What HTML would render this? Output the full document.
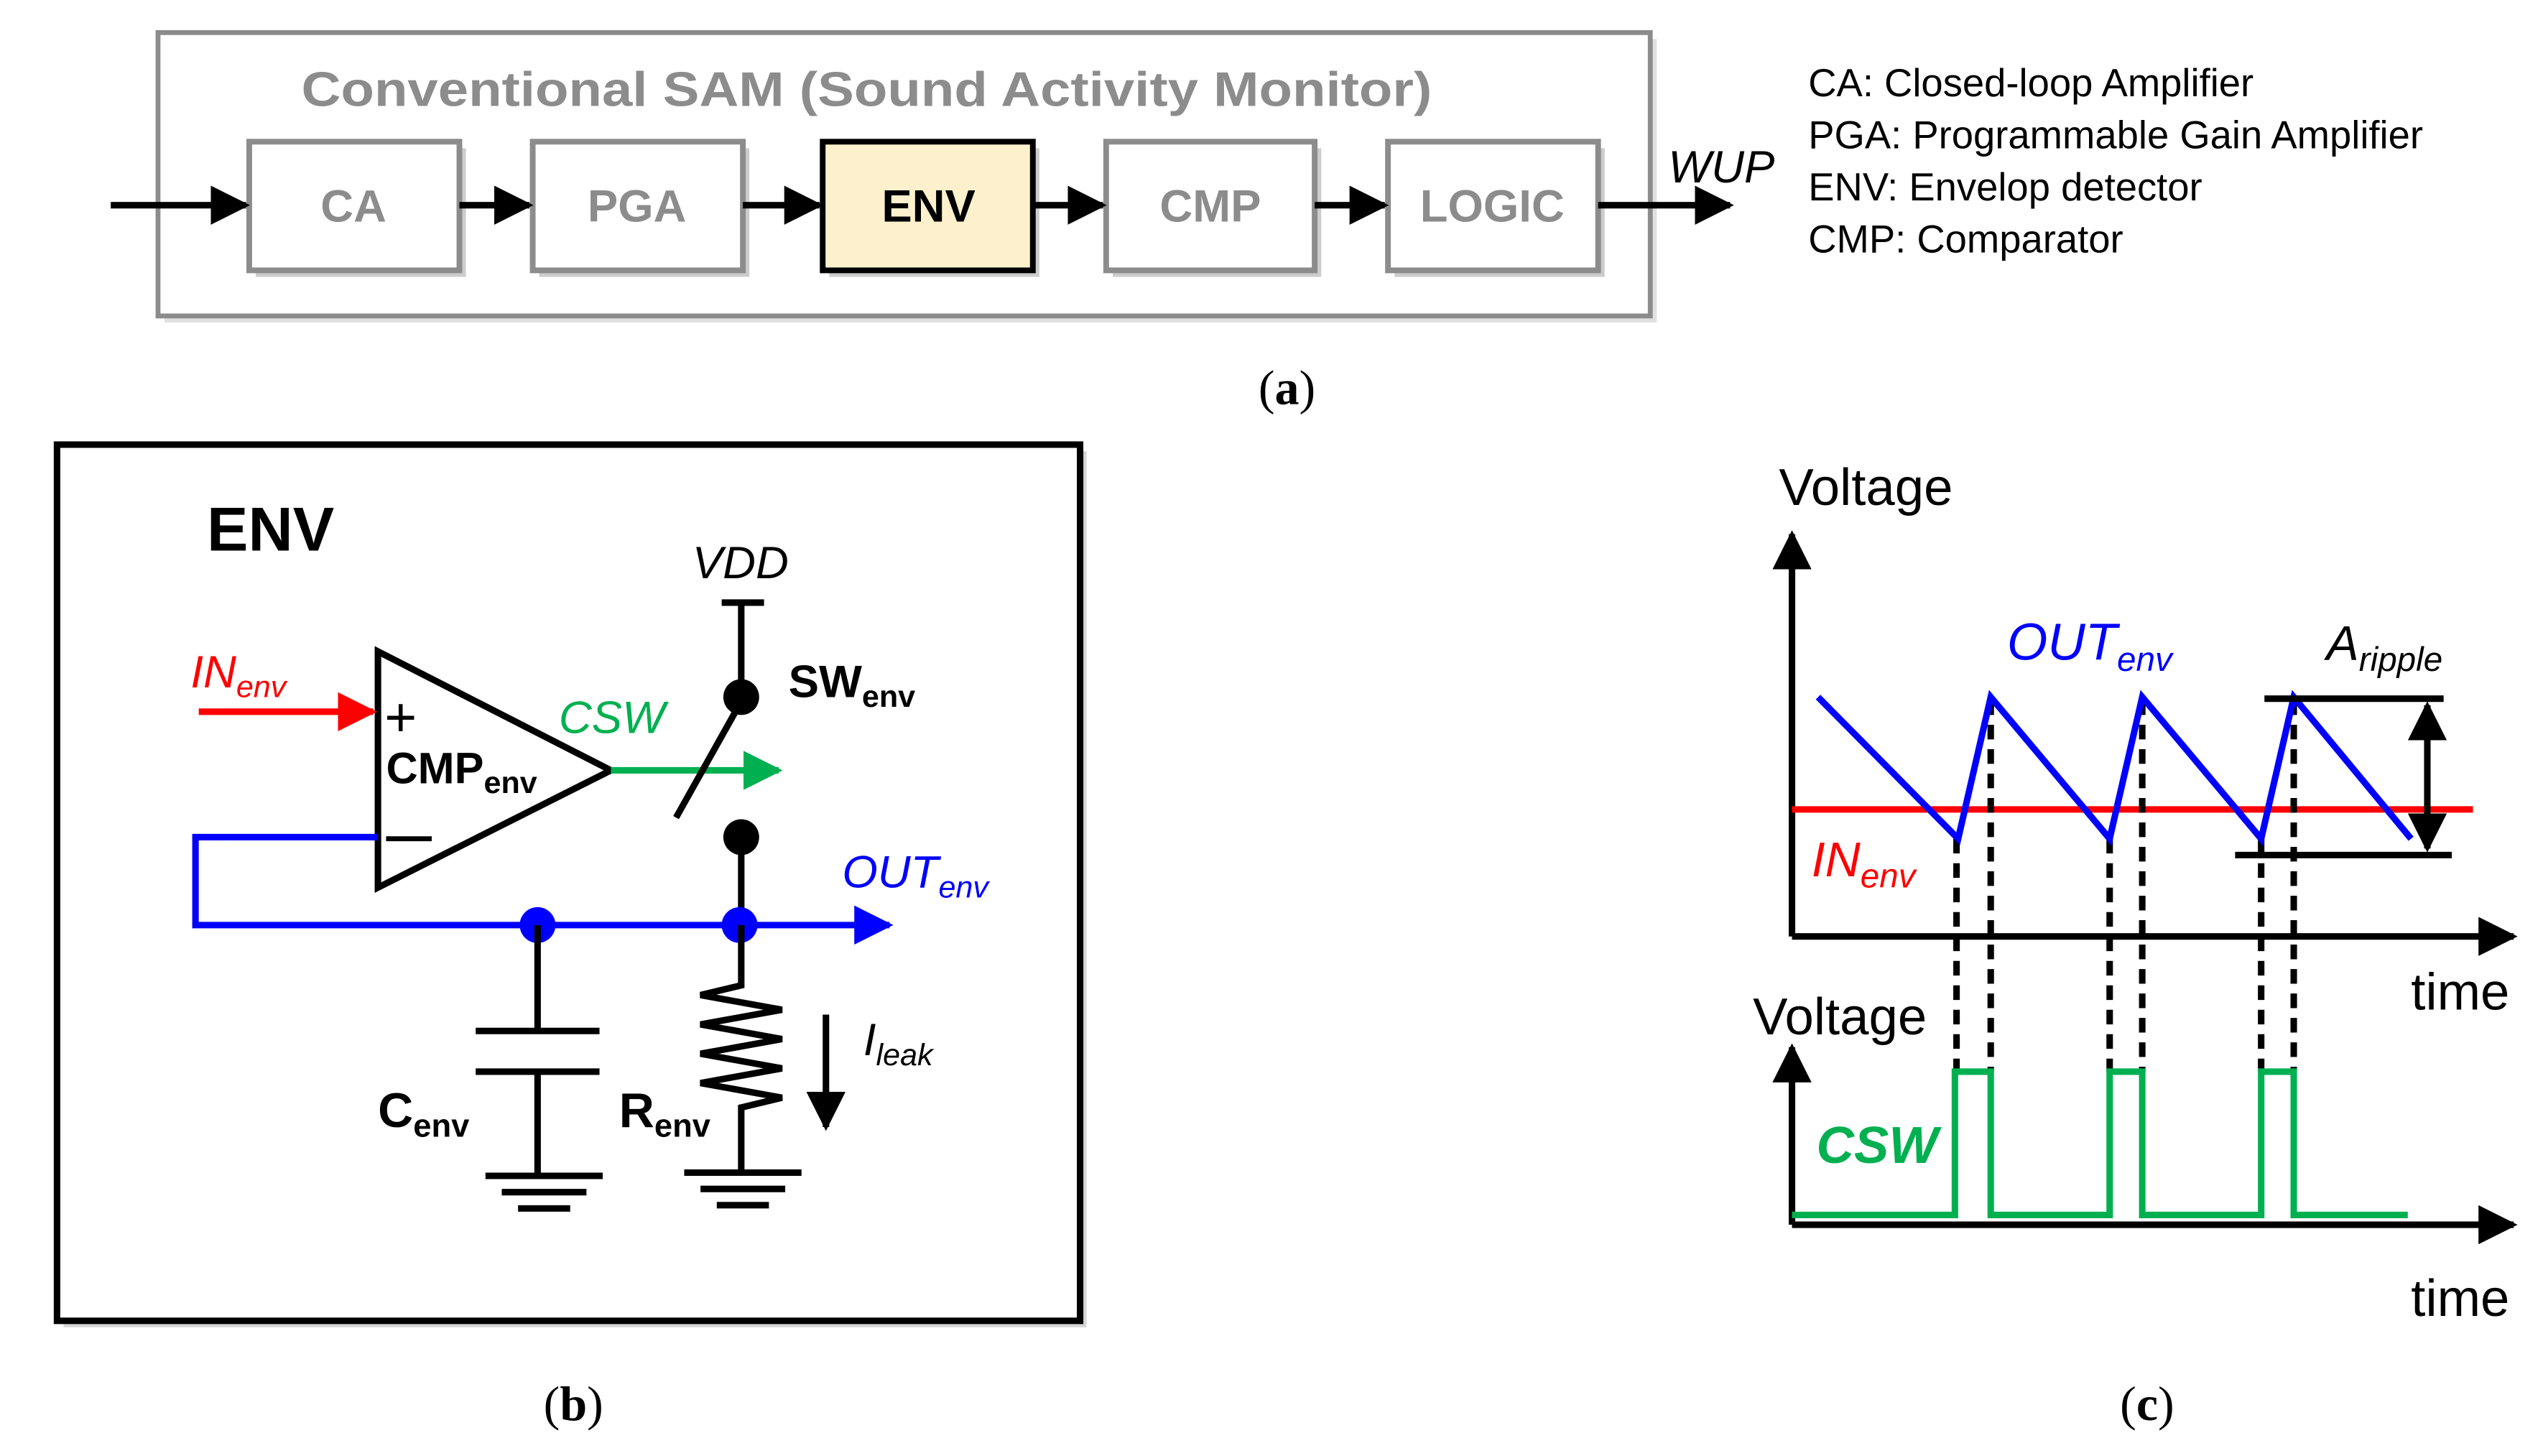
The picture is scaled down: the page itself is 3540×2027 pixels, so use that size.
<!DOCTYPE html>
<html><head><meta charset="utf-8"><style>
html,body{margin:0;padding:0;background:#fff;}
svg{display:block;}
text{font-family:"Liberation Sans",sans-serif;}
</style></head><body>
<svg width="3540" height="2027" viewBox="0 0 1561 894" preserveAspectRatio="none" xmlns="http://www.w3.org/2000/svg">
<defs>
<marker id="ak" viewBox="0 0 10 10" refX="9" refY="5" markerWidth="6" markerHeight="6" orient="auto" markerUnits="strokeWidth"><path d="M0,0 L10,5 L0,10z" fill="#000"/></marker>
<marker id="ar" viewBox="0 0 10 10" refX="9" refY="5" markerWidth="6" markerHeight="6" orient="auto" markerUnits="strokeWidth"><path d="M0,0 L10,5 L0,10z" fill="#f00"/></marker>
<marker id="ag" viewBox="0 0 10 10" refX="9" refY="5" markerWidth="6" markerHeight="6" orient="auto" markerUnits="strokeWidth"><path d="M0,0 L10,5 L0,10z" fill="#00b050"/></marker>
<marker id="ab" viewBox="0 0 10 10" refX="9" refY="5" markerWidth="6" markerHeight="6" orient="auto" markerUnits="strokeWidth"><path d="M0,0 L10,5 L0,10z" fill="#00f"/></marker>
</defs>
<!-- (a) -->
<rect x="101" y="24" width="916" height="174" fill="#ccc" opacity="0.6"/>
<rect x="97" y="20" width="916" height="174" fill="#fff" stroke="#8c8c8c" stroke-width="3"/>
<text x="532" y="65" font-size="30" font-weight="bold" fill="#8c8c8c" text-anchor="middle" textLength="694" lengthAdjust="spacingAndGlyphs">Conventional SAM (Sound Activity Monitor)</text>
<g stroke-width="3.5">
<rect x="157" y="91" width="129" height="79" fill="#ccc" stroke="none"/>
<rect x="153" y="87" width="129" height="79" fill="#fff" stroke="#8c8c8c"/>
<rect x="331" y="91" width="129" height="79" fill="#ccc" stroke="none"/>
<rect x="327" y="87" width="129" height="79" fill="#fff" stroke="#8c8c8c"/>
<rect x="509" y="91" width="129" height="79" fill="#ccc" stroke="none"/>
<rect x="505" y="87" width="129" height="79" fill="#fdf0cc" stroke="#000"/>
<rect x="683" y="91" width="128" height="79" fill="#ccc" stroke="none"/>
<rect x="679" y="87" width="128" height="79" fill="#fff" stroke="#8c8c8c"/>
<rect x="856" y="91" width="129" height="79" fill="#ccc" stroke="none"/>
<rect x="852" y="87" width="129" height="79" fill="#fff" stroke="#8c8c8c"/>
</g>
<g font-size="28" font-weight="bold" text-anchor="middle" fill="#8c8c8c">
<text x="217" y="136">CA</text><text x="391" y="136">PGA</text>
<text x="570" y="136" fill="#000">ENV</text><text x="743" y="136">CMP</text><text x="916" y="136">LOGIC</text>
</g>
<g stroke="#000" stroke-width="4" marker-end="url(#ak)">
<line x1="68" y1="126" x2="151" y2="126"/>
<line x1="282" y1="126" x2="325" y2="126"/>
<line x1="456" y1="126" x2="503" y2="126"/>
<line x1="634" y1="126" x2="677" y2="126"/>
<line x1="807" y1="126" x2="850" y2="126"/>
<line x1="981" y1="126" x2="1062" y2="126"/>
</g>
<text x="1024" y="112" font-size="28" font-style="italic">WUP</text>
<g font-size="24">
<text x="1110" y="59">CA: Closed-loop Amplifier</text>
<text x="1110" y="91">PGA: Programmable Gain Amplifier</text>
<text x="1110" y="123">ENV: Envelop detector</text>
<text x="1110" y="155">CMP: Comparator</text>
</g>
<text x="790" y="248" font-size="30" text-anchor="middle" style="font-family:'Liberation Serif',serif">(<tspan font-weight="bold">a</tspan>)</text>
<!-- (b) -->
<rect x="39" y="277" width="628" height="538" fill="#bbb" opacity="0.6"/>
<rect x="35" y="273" width="628" height="538" fill="#fff" stroke="#000" stroke-width="4"/>
<text x="127" y="338" font-size="38" font-weight="bold">ENV</text>
<polygon points="232,400 232,545 375,473" fill="none" stroke="#000" stroke-width="4"/>
<text x="236" y="452" font-size="34">+</text>
<line x1="237" y1="515" x2="265" y2="515" stroke="#000" stroke-width="3"/>
<text x="237" y="481" font-size="27" font-weight="bold">CMP<tspan font-size="19" dy="6">env</tspan></text>
<text x="117" y="422" font-size="28" font-style="italic" fill="#f00">IN<tspan font-size="19" dy="6">env</tspan></text>
<line x1="122" y1="437" x2="229" y2="437" stroke="#f00" stroke-width="4" marker-end="url(#ar)"/>
<text x="343" y="450" font-size="28" font-style="italic" fill="#00b050">CSW</text>
<line x1="375" y1="473" x2="478" y2="473" stroke="#00b050" stroke-width="4" marker-end="url(#ag)"/>
<text x="425" y="355" font-size="28" font-style="italic">VDD</text>
<line x1="443" y1="370" x2="469" y2="370" stroke="#000" stroke-width="4"/>
<line x1="455" y1="370" x2="455" y2="428" stroke="#000" stroke-width="4"/>
<circle cx="455" cy="428" r="11" fill="#000"/>
<line x1="415" y1="502" x2="452" y2="436" stroke="#000" stroke-width="4"/>
<text x="484" y="428" font-size="28" font-weight="bold">SW<tspan font-size="19" dy="6">env</tspan></text>
<circle cx="455" cy="514" r="11" fill="#000"/>
<line x1="455" y1="514" x2="455" y2="568" stroke="#000" stroke-width="4"/>
<polyline points="232,514 120,514 120,568 546,568" fill="none" stroke="#00f" stroke-width="4" marker-end="url(#ab)"/>
<circle cx="330" cy="568" r="11" fill="#00f"/>
<circle cx="454" cy="568" r="11" fill="#00f"/>
<text x="517" y="545" font-size="28" font-style="italic" fill="#00f">OUT<tspan font-size="19" dy="6">env</tspan></text>
<g stroke="#000" stroke-width="4" fill="none">
<line x1="330" y1="568" x2="330" y2="633"/>
<line x1="292" y1="633" x2="368" y2="633"/>
<line x1="292" y1="658" x2="368" y2="658"/>
<line x1="330" y1="658" x2="330" y2="722"/>
<line x1="298" y1="722" x2="370" y2="722"/><line x1="308" y1="732" x2="360" y2="732"/><line x1="318" y1="742" x2="350" y2="742"/>
<polyline points="455,568 455,605 430,611 480,620 430,629 480,638 430,647 480,656 430,665 480,674 455,680 455,720"/>
<line x1="420" y1="720" x2="492" y2="720"/><line x1="430" y1="730" x2="482" y2="730"/><line x1="440" y1="740" x2="472" y2="740"/>
<line x1="507" y1="623" x2="507" y2="692" marker-end="url(#ak)"/>
</g>
<text x="232" y="692" font-size="30" font-weight="bold">C<tspan font-size="20" dy="6">env</tspan></text>
<text x="380" y="692" font-size="30" font-weight="bold">R<tspan font-size="20" dy="6">env</tspan></text>
<text x="530" y="648" font-size="28" font-style="italic">I<tspan font-size="19" dy="6">leak</tspan></text>
<text x="352" y="872" font-size="30" text-anchor="middle" style="font-family:'Liberation Serif',serif">(<tspan font-weight="bold">b</tspan>)</text>
<!-- (c) -->
<text x="1092" y="310" font-size="32">Voltage</text>
<g stroke="#000" stroke-width="4" fill="none">
<line x1="1100" y1="575" x2="1100" y2="328" marker-end="url(#ak)"/>
<line x1="1100" y1="575" x2="1543" y2="575" marker-end="url(#ak)"/>
<line x1="1100" y1="752" x2="1100" y2="643" marker-end="url(#ak)"/>
<line x1="1100" y1="752" x2="1543" y2="752" marker-end="url(#ak)"/>
</g>
<text x="1480" y="620" font-size="32">time</text>
<text x="1480" y="808" font-size="32">time</text>
<text x="1076" y="635" font-size="32">Voltage</text>
<line x1="1100" y1="497" x2="1518" y2="497" stroke="#f00" stroke-width="4"/>
<g stroke="#000" stroke-width="4" stroke-dasharray="9,6">
<line x1="1201" y1="515" x2="1201" y2="658"/><line x1="1222" y1="430" x2="1222" y2="658"/>
<line x1="1295" y1="515" x2="1295" y2="658"/><line x1="1315" y1="430" x2="1315" y2="658"/>
<line x1="1388" y1="515" x2="1388" y2="658"/><line x1="1408" y1="430" x2="1408" y2="658"/>
</g>
<polyline points="1116,428 1202,515 1222,428 1295,515 1315,428 1388,515 1408,428 1480,515" fill="none" stroke="#00f" stroke-width="4"/>
<g stroke="#000" stroke-width="4">
<line x1="1390" y1="429" x2="1500" y2="429"/>
<line x1="1372" y1="525" x2="1505" y2="525"/>
</g>
<line x1="1490" y1="477" x2="1490" y2="433" stroke="#000" stroke-width="4" marker-end="url(#ak)"/>
<line x1="1490" y1="477" x2="1490" y2="521" stroke="#000" stroke-width="4" marker-end="url(#ak)"/>
<text x="1232" y="405" font-size="32" font-style="italic" fill="#00f">OUT<tspan font-size="21" dy="7">env</tspan></text>
<text x="1428" y="405" font-size="30" font-style="italic">A<tspan font-size="21" dy="7">ripple</tspan></text>
<text x="1112" y="538" font-size="30" font-style="italic" fill="#f00">IN<tspan font-size="21" dy="7">env</tspan></text>
<polyline points="1100,746 1200,746 1200,658 1222,658 1222,746 1295,746 1295,658 1315,658 1315,746 1388,746 1388,658 1408,658 1408,746 1478,746" fill="none" stroke="#00b050" stroke-width="4"/>
<text x="1115" y="714" font-size="32" font-weight="bold" font-style="italic" fill="#00b050">CSW</text>
<text x="1318" y="872" font-size="30" text-anchor="middle" style="font-family:'Liberation Serif',serif">(<tspan font-weight="bold">c</tspan>)</text>
</svg>
</body></html>
